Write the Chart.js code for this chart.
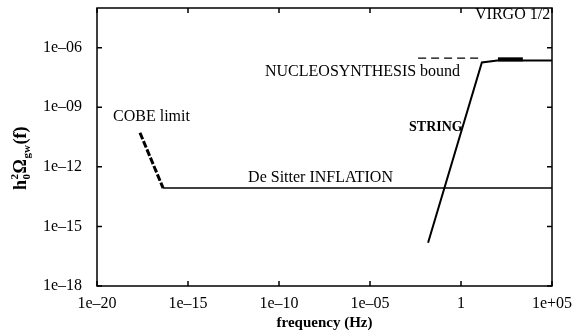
<!DOCTYPE html>
<html>
<head>
<meta charset="utf-8">
<script src="https://cdn.jsdelivr.net/npm/chart.js@4/dist/chart.umd.min.js"></script>
<style>
html,body{margin:0;padding:0;background:#fff;}
#wrap{width:588px;height:333px;position:relative;}
</style>
</head>
<body>
<div id="wrap"><canvas id="c"></canvas></div>
<script>
// ---- axis ticks ----
const xTickValues = [1e-20, 1e-15, 1e-10, 1e-5, 1, 1e5];
const xTickLabels = ['1e\u201320', '1e\u201315', '1e\u201310', '1e\u201305', '1', '1e+05'];
const yTickValues = [1e-18, 1e-15, 1e-12, 1e-9, 1e-6];
const yTickLabels = ['1e\u201318', '1e\u201315', '1e\u201312', '1e\u201309', '1e\u201306'];

// ---- series (frequency in Hz, h0^2 Omega_gw) ----
const cobeFreq = [2.3e-18, 4.3e-17];
const cobeOmega = [5.2e-11, 8.5e-14];
const inflationFreq = [4.3e-17, 1e5];
const inflationOmega = [8.5e-14, 8.5e-14];
const stringFreq = [0.0155, 14, 100, 1e5];
const stringOmega = [1.5e-16, 1.8e-7, 2.3e-7, 2.3e-7];
const nucleoFreq = [4.4e-3, 12];
const nucleoOmega = [3.0e-7, 3.0e-7];
const virgoFreq = [107, 2500];
const virgoOmega = [2.6e-7, 2.6e-7];

// ---- text annotations (anchored in data coordinates) ----
const noteTexts = ['COBE limit', 'NUCLEOSYNTHESIS bound', 'VIRGO 1/2', 'STRING', 'De Sitter INFLATION'];
const noteFreq = [7.6e-20, 1.7e-11, 5.9, 1.4e-3, 2.0e-12];
const noteOmega = [3.3e-10, 6.2e-8, 4.7e-5, 9.3e-11, 2.8e-13];
const noteBold = [false, false, false, true, false];
const noteSize = [16, 16, 16, 14, 16];

const FONT = "'Liberation Serif', 'Times New Roman', serif";

function pts(xs, ys) { return xs.map((x, i) => ({x: x, y: ys[i]})); }

const framePlugin = {
  id: 'frame',
  afterDatasetsDraw(chart) {
    const {ctx, chartArea: a, scales} = chart;
    ctx.save();
    ctx.strokeStyle = '#000';
    ctx.lineWidth = 1.5;
    ctx.strokeRect(a.left, a.top, a.right - a.left, a.bottom - a.top);
    const tl = 5;
    ctx.beginPath();
    xTickValues.forEach(v => {
      const px = scales.x.getPixelForValue(v);
      ctx.moveTo(px, a.bottom); ctx.lineTo(px, a.bottom - tl);
      ctx.moveTo(px, a.top); ctx.lineTo(px, a.top + tl);
    });
    yTickValues.forEach(v => {
      const py = scales.y.getPixelForValue(v);
      ctx.moveTo(a.left, py); ctx.lineTo(a.left + tl, py);
      ctx.moveTo(a.right, py); ctx.lineTo(a.right - tl, py);
    });
    ctx.stroke();
    // annotations
    ctx.fillStyle = '#000';
    ctx.textBaseline = 'middle';
    ctx.textAlign = 'left';
    noteTexts.forEach((t, i) => {
      ctx.font = (noteBold[i] ? 'bold ' : '') + noteSize[i] + 'px ' + FONT;
      ctx.fillText(t, scales.x.getPixelForValue(noteFreq[i]), scales.y.getPixelForValue(noteOmega[i]));
    });
    // y axis title  h0^2 Omega_gw(f)
    ctx.save();
    ctx.translate(20, 158);
    ctx.rotate(-Math.PI / 2);
    ctx.textBaseline = 'alphabetic';
    const big = 'bold 18px ' + FONT, small = 'bold 11px ' + FONT;
    const parts = [
      {t: 'h', f: big, dy: 0},
      {t: '0', f: small, dy: 4, stack: '2', sdy: -8},
      {t: '\u03A9', f: big, dy: 0},
      {t: 'gw', f: small, dy: 4},
      {t: '(f)', f: big, dy: 0}
    ];
    let total = 0;
    parts.forEach(p => { ctx.font = p.f; p.w = ctx.measureText(p.t).width; total += p.w + 0.5; });
    let x = -total / 2;
    parts.forEach(p => {
      ctx.font = p.f;
      ctx.fillText(p.t, x, 6 + p.dy);
      if (p.stack) ctx.fillText(p.stack, x, 6 + p.sdy);
      x += p.w + 0.5;
    });
    ctx.restore();
    ctx.restore();
  }
};

const common = {showLine: true, pointRadius: 0, fill: false, borderColor: '#000', tension: 0};

new Chart(document.getElementById('c'), {
  type: 'scatter',
  data: {
    datasets: [
      Object.assign({label: 'COBE limit', data: pts(cobeFreq, cobeOmega), borderWidth: 3, borderDash: [7, 2]}, common),
      Object.assign({label: 'De Sitter INFLATION', data: pts(inflationFreq, inflationOmega), borderWidth: 1.5}, common),
      Object.assign({label: 'STRING', data: pts(stringFreq, stringOmega), borderWidth: 2}, common),
      Object.assign({label: 'NUCLEOSYNTHESIS bound', data: pts(nucleoFreq, nucleoOmega), borderWidth: 1.3, borderDash: [8, 5]}, common),
      Object.assign({label: 'VIRGO 1/2', data: pts(virgoFreq, virgoOmega), borderWidth: 4}, common)
    ]
  },
  options: {
    responsive: true,
    maintainAspectRatio: false,
    animation: false,
    layout: {padding: {top: 8, right: 36, left: 0, bottom: 0}},
    plugins: {legend: {display: false}, tooltip: {enabled: false}},
    scales: {
      x: {
        type: 'logarithmic', min: 1e-20, max: 1e5,
        grid: {display: false}, border: {display: false},
        afterBuildTicks: s => { s.ticks = xTickValues.map(v => ({value: v})); },
        afterFit: s => { s.height = 47; s.paddingLeft = 0; s.paddingRight = 0; },
        ticks: {
          autoSkip: false, maxRotation: 0, padding: 0, color: '#000',
          font: {family: FONT, size: 16},
          callback: (v, i) => xTickLabels[i]
        },
        title: {display: true, text: 'frequency (Hz)', color: '#000',
          font: {family: FONT, size: 15, weight: 'bold'}, padding: {top: 0, bottom: 1}}
      },
      y: {
        type: 'logarithmic', min: 1e-18, max: 1e-4,
        grid: {display: false}, border: {display: false},
        afterBuildTicks: s => { s.ticks = yTickValues.map(v => ({value: v})); },
        afterFit: s => { s.width = 97; s.paddingTop = 0; s.paddingBottom = 0; },
        ticks: {
          autoSkip: false, padding: 7, color: '#000',
          font: {family: FONT, size: 16},
          callback: (v, i) => yTickLabels[i]
        }
      }
    }
  },
  plugins: [framePlugin]
});
</script>
</body>
</html>
